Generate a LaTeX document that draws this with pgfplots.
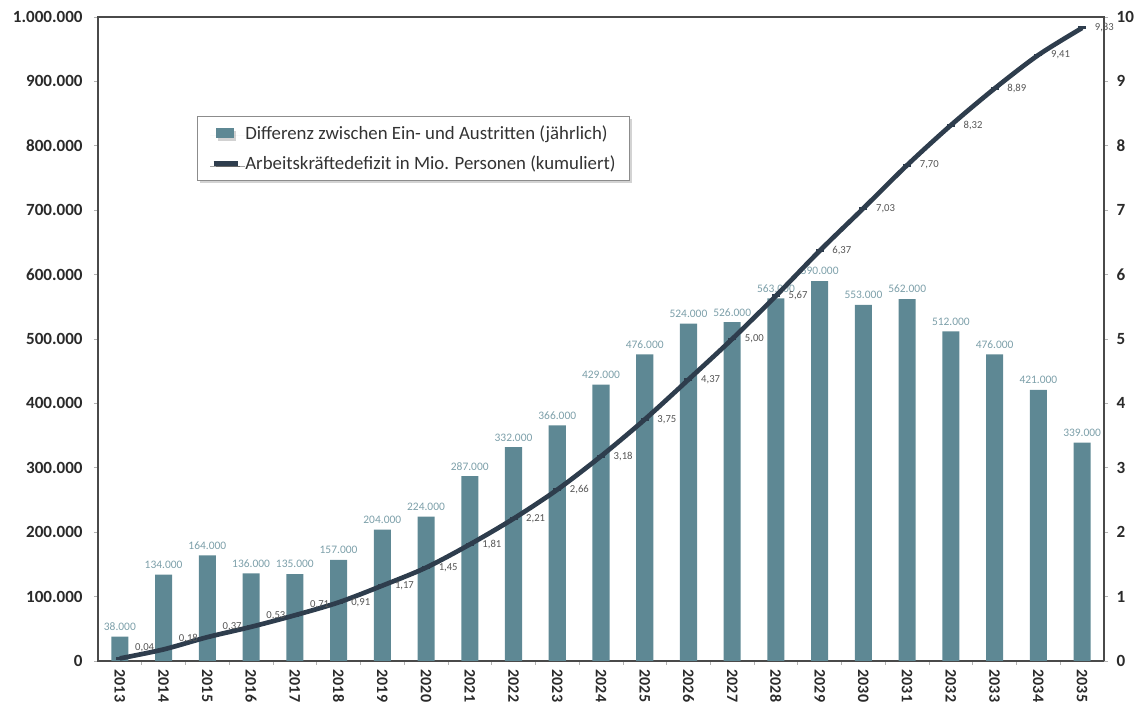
\documentclass[border=0pt]{standalone}
\usepackage{pgfplots}
\pgfplotsset{compat=1.18}
\usepackage{pgfplotstable}
\usepackage{fontspec}
\setmainfont{Carlito}
\usetikzlibrary{shadows}
\definecolor{barcol}{HTML}{5E8894}
\definecolor{barlab}{HTML}{7C9FA9}
\definecolor{linecol}{HTML}{2E3D4D}
\definecolor{axcol}{HTML}{4A4A4A}
\definecolor{ticklab}{HTML}{2A2A2A}
\definecolor{linelab}{HTML}{555555}

\pgfplotstableread{
x y
0 38000
1 134000
2 164000
3 136000
4 135000
5 157000
6 204000
7 224000
8 287000
9 332000
10 366000
11 429000
12 476000
13 524000
14 526000
15 563000
16 590000
17 553000
18 562000
19 512000
20 476000
21 421000
22 339000
}\bardata

\pgfplotstableread{
x y
0 0.04
1 0.18
2 0.37
3 0.53
4 0.71
5 0.91
6 1.17
7 1.45
8 1.81
9 2.21
10 2.66
11 3.18
12 3.75
13 4.37
14 5.00
15 5.67
16 6.37
17 7.03
18 7.70
19 8.32
20 8.89
21 9.41
22 9.83
}\linedata

\begin{document}
\begin{tikzpicture}
\pgfplotsset{
  /pgf/number format/assume math mode=true,
  common/.style={
    scale only axis, width=754.5pt, height=483pt,
    xmin=-0.5, xmax=22.5,
    axis line style={axcol, line width=1.3pt},
    tick style={black!30, line width=0.5pt},
    major tick length=3pt,
    tick align=outside,
    yticklabel style={font=\bfseries\fontsize{12.8}{14}\selectfont, text=ticklab},
  }
}
\begin{axis}[common, name=ax,
  ymin=0, ymax=1000000,
  ytick={0,100000,...,1000000},
  scaled y ticks=false,
  yticklabel style={xshift=-5pt, /pgf/number format/.cd, fixed, 1000 sep={.}},
  ytick pos=left,
  xtick={0,...,22},
  xticklabels={2013,2014,2015,2016,2017,2018,2019,2020,2021,2022,2023,2024,2025,2026,2027,2028,2029,2030,2031,2032,2033,2034,2035},
  xtick pos=bottom,
  major x tick style={draw=none},
  minor x tick num=1,
  minor tick length=3pt,
  x tick label style={rotate=-90, anchor=west, font=\bfseries\fontsize{12}{13}\selectfont, text=ticklab},
  legend style={at={(0.098,0.847)}, anchor=north west, draw=black!45, line width=0.6pt,
    drop shadow={shadow xshift=2pt, shadow yshift=-2pt, opacity=0.35},
    font=\fontsize{14.1}{17}\selectfont, text=black!80,
    inner xsep=8pt, inner ysep=5pt, row sep=7pt},
  legend cell align=left,
]
\addplot[ybar, bar width=0.39, fill=barcol, draw=none,
  legend image code/.code={\path[draw=none,fill=none] (0pt,0pt) -- (26.25pt,0pt); \fill[barcol] (6pt,-3.75pt) rectangle (19.5pt,3.75pt);},
  nodes near coords={\pgfmathprintnumber[fixed,1000 sep={.}]{\pgfplotspointmeta}},
  every node near coord/.append style={font=\fontsize{8.6}{9}\selectfont, text=barlab, anchor=south, yshift=1pt}]
  table {\bardata};
\addlegendentry{Differenz zwischen Ein- und Austritten (jährlich)}
\addlegendimage{legend image code/.code={\path[draw=none,fill=none] (0pt,0pt) -- (26.25pt,0pt); \draw[linecol, line width=3.5pt] (4.5pt,0pt) -- (22.5pt,0pt);}}
\addlegendentry{Arbeitskräftedefizit in Mio. Personen (kumuliert)}
\end{axis}
\begin{axis}[common,
  ymin=0, ymax=10,
  ytick={0,...,10},
  yticklabel style={xshift=3pt},
  axis y line*=right,
  axis x line=none,
]
\addplot[linecol, line width=3.5pt, smooth, mark=-, mark size=3pt, mark options={line width=2.2pt}] table {\linedata};
\addplot[draw=none, forget plot, skip coords between index={5}{23},
  nodes near coords={\pgfmathprintnumber[fixed,fixed zerofill,precision=2,use comma]{\pgfplotspointmeta}},
  every node near coord/.append style={font=\fontsize{8}{9}\selectfont, text=linelab, anchor=west, xshift=8pt, yshift=8pt}]
  table {\linedata};
\addplot[draw=none, forget plot, skip coords between index={0}{5},
  nodes near coords={\pgfmathprintnumber[fixed,fixed zerofill,precision=2,use comma]{\pgfplotspointmeta}},
  every node near coord/.append style={font=\fontsize{8}{9}\selectfont, text=linelab, anchor=west, xshift=6pt}]
  table {\linedata};
\end{axis}
\pgfresetboundingbox
\path[use as bounding box] ([shift={(-73.5pt,-30.75pt)}]ax.south west) rectangle ++(852pt,526.5pt);
\end{tikzpicture}
\end{document}
